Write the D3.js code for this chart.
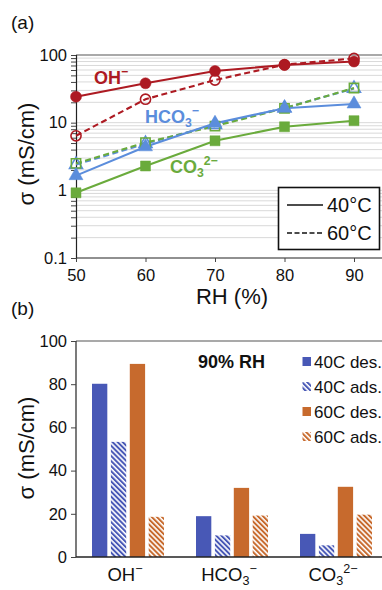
<!DOCTYPE html>
<html><head><meta charset="utf-8">
<script src="https://cdn.jsdelivr.net/npm/d3@7"></script>
<style>
html,body{margin:0;padding:0;background:#fff;overflow:hidden}
text{font-family:"Liberation Sans",Arial,Helvetica,sans-serif}
</style></head>
<body>
<svg id="c" width="382" height="590"></svg>
<script>
// ---- Panel (a) data ----
const rh = [50, 60, 70, 80, 90];
const oh40 = [24.2, 38.2, 58, 71, 80];
const oh60 = [6.4, 22.2, 42.7, 72, 89];
const hco40 = [1.65, 4.4, 9.8, 16.3, 18.9];
const hco60 = [2.4, 4.9, 9.3, 16.5, 32];
const co40 = [0.92, 2.29, 5.4, 8.7, 10.7];
const co60 = [2.5, 5.07, 8.9, 16.3, 32.5];
const yTicksA = [0.1, 1, 10, 100];
const yTickLabelsA = ["0.1", "1", "10", "100"];

// ---- Panel (b) data ----
const anions = ["OH", "HCO3", "CO3"];
const barSeries = ["40C des.", "40C ads.", "60C des.", "60C ads."];
const des40 = [80.2, 18.9, 10.7];
const ads40 = [53.3, 10.0, 5.4];
const des60 = [89.4, 32.0, 32.5];
const ads60 = [18.6, 19.2, 19.6];
const yTicksB = [0, 20, 40, 60, 80, 100];

const RED = "#ad1a22", BLUE = "#5b8ddc", GREEN = "#6aab3c";
const BBLUE = "#4858b6", BORANGE = "#c76a2d";

const svg = d3.select("#c");
const defs = svg.append("defs");
function hatch(id, color) {
  const p = defs.append("pattern").attr("id", id).attr("patternUnits", "userSpaceOnUse")
    .attr("width", 3.6).attr("height", 3.6).attr("patternTransform", "rotate(-45)");
  p.append("rect").attr("width", 3.6).attr("height", 3.6).attr("fill", "#fff");
  p.append("rect").attr("x", 0).attr("width", 2).attr("height", 3.6).attr("fill", color);
}
hatch("hb", BBLUE); hatch("ho", BORANGE);

// ================= Panel (a) =================
const xA = d3.scaleLinear().domain([50, 90]).range([76, 354]);
const yA = d3.scaleLog().domain([0.1, 100]).range([258, 55]);
const gA = svg.append("g");

const gridVals = [];
for (let e = -1; e < 2; e++) for (let m = 1; m < 10; m++) gridVals.push(m * Math.pow(10, e));
gridVals.push(100);
gA.append("g").selectAll("line").data(gridVals.filter(v => v > 0.1 && v < 100)).join("line")
  .attr("x1", 76).attr("x2", 382).attr("y1", d => yA(d)).attr("y2", d => yA(d))
  .attr("stroke", "#d9d9d9").attr("stroke-width", 1);
gA.append("line").attr("x1", 76).attr("x2", 382).attr("y1", yA(100)).attr("y2", yA(100))
  .attr("stroke", "#555").attr("stroke-width", 1.2);

const axA = d3.axisLeft(yA).tickValues(gridVals).tickSize(5)
  .tickFormat(d => { const i = yTicksA.indexOf(d); return i >= 0 ? yTickLabelsA[i] : ""; });
const gya = gA.append("g").attr("transform", "translate(76,0)").call(axA);
gya.select(".domain").attr("stroke", "#222").attr("stroke-width", 1.2);
gya.selectAll(".tick line").attr("stroke", "#444");
gya.selectAll("text").attr("font-size", 16.5).attr("fill", "#111").attr("x", -9)
  .attr("font-family", '"Liberation Sans",Arial,sans-serif');

const axX = d3.axisBottom(xA).tickValues(rh).tickSize(4).tickFormat(d3.format("d"));
const gxa = gA.append("g").attr("transform", "translate(0,258)").call(axX);
gxa.select(".domain").attr("stroke", "#222").attr("stroke-width", 1.2).attr("d", "M76,0H382");
gxa.selectAll(".tick line").attr("stroke", "#444");
gxa.selectAll("text").attr("font-size", 16.5).attr("fill", "#111").attr("dy", "0.95em")
  .attr("font-family", '"Liberation Sans",Arial,sans-serif');

svg.append("text").attr("x", 232).attr("y", 304).attr("text-anchor", "middle")
  .attr("font-size", 22).attr("fill", "#111").text("RH (%)");
svg.append("text").attr("transform", "translate(34,154) rotate(-90)").attr("text-anchor", "middle")
  .attr("font-size", 22).attr("fill", "#111").text("σ (mS/cm)");
svg.append("text").attr("x", 11).attr("y", 29).attr("font-size", 19).attr("fill", "#111").text("(a)");

const seriesA = [
  {v: oh60, c: RED, dash: true, m: "circle"},
  {v: hco60, c: BLUE, dash: true, m: "triangle"},
  {v: co60, c: GREEN, dash: true, m: "square"},
  {v: oh40, c: RED, dash: false, m: "circle"},
  {v: hco40, c: BLUE, dash: false, m: "triangle"},
  {v: co40, c: GREEN, dash: false, m: "square"}
];
const line = d3.line().x((d, i) => xA(rh[i])).y(d => yA(d));
const sym = {circle: d3.symbolCircle, triangle: d3.symbolTriangle, square: d3.symbolSquare};
const symSize = {circle: 95, triangle: 85, square: 100};
seriesA.forEach(s => {
  gA.append("path").datum(s.v).attr("d", line).attr("fill", "none").attr("stroke", s.c)
    .attr("stroke-width", 2.1).attr("stroke-dasharray", s.dash ? "6,3.5" : null);
});
seriesA.forEach(s => {
  gA.append("g").selectAll("path").data(s.v).join("path")
    .attr("transform", (d, i) => `translate(${xA(rh[i])},${yA(d)})`)
    .attr("d", d3.symbol(sym[s.m], s.dash ? symSize[s.m] * 0.85 : symSize[s.m]))
    .attr("fill", s.dash ? "none" : s.c).attr("stroke", s.c).attr("stroke-width", s.dash ? 1.6 : 0.5);
});

function ionLabel(g, x, y, base, sub, sup, color, size, weight) {
  const t = g.append("text").attr("x", x).attr("y", y).attr("font-size", size)
    .attr("font-weight", weight).attr("fill", color);
  t.append("tspan").text(base);
  let dyBack = 0;
  if (sub) { t.append("tspan").attr("font-size", size * 0.68).attr("dy", size * 0.24).text(sub); dyBack = size * 0.24; }
  if (sup) t.append("tspan").attr("font-size", size * 0.68).attr("dy", -(dyBack + size * 0.42)).text(sup);
  return t;
}
ionLabel(gA, 94, 84, "OH", null, "−", RED, 18, "bold");
ionLabel(gA, 145, 123, "HCO", "3", "−", BLUE, 18, "bold");
ionLabel(gA, 170, 173, "CO", "3", "2−", GREEN, 18, "bold");

const lg = svg.append("g");
lg.append("rect").attr("x", 278.5).attr("y", 187.5).attr("width", 101).attr("height", 62)
  .attr("fill", "#fff").attr("stroke", "#111").attr("stroke-width", 1.6);
lg.append("line").attr("x1", 287).attr("x2", 323).attr("y1", 205).attr("y2", 205)
  .attr("stroke", "#111").attr("stroke-width", 1.6);
lg.append("line").attr("x1", 287).attr("x2", 323).attr("y1", 233).attr("y2", 233)
  .attr("stroke", "#111").attr("stroke-width", 1.6).attr("stroke-dasharray", "5,2.5");
lg.append("text").attr("x", 327).attr("y", 212).attr("font-size", 20).attr("fill", "#111").text("40°C");
lg.append("text").attr("x", 327).attr("y", 240).attr("font-size", 20).attr("fill", "#111").text("60°C");

// ================= Panel (b) =================
const yB = d3.scaleLinear().domain([0, 100]).range([557, 341]);
const x0 = d3.scaleBand().domain(anions).range([76, 388]);
const x1 = d3.scaleBand().domain(barSeries).range([16, 88]).paddingInner(0.19);
const gB = svg.append("g");
const barVals = {"40C des.": des40, "40C ads.": ads40, "60C des.": des60, "60C ads.": ads60};
const barFill = {"40C des.": BBLUE, "40C ads.": "url(#hb)", "60C des.": BORANGE, "60C ads.": "url(#ho)"};

anions.forEach((a, ai) => {
  barSeries.forEach(s => {
    const v = barVals[s][ai];
    gB.append("rect").attr("x", x0(a) + x1(s)).attr("width", x1.bandwidth())
      .attr("y", yB(v)).attr("height", yB(0) - yB(v)).attr("fill", barFill[s]);
  });
});

gB.append("line").attr("x1", 76).attr("x2", 382).attr("y1", yB(100)).attr("y2", yB(100))
  .attr("stroke", "#555").attr("stroke-width", 1.2);
const ayB = d3.axisLeft(yB).tickValues(yTicksB).tickSize(5).tickFormat(d3.format("d"));
const gyb = gB.append("g").attr("transform", "translate(76,0)").call(ayB);
gyb.select(".domain").attr("stroke", "#222").attr("stroke-width", 1.2).attr("d", "M0,341V557");
gyb.selectAll(".tick line").attr("stroke", "#444");
gyb.selectAll("text").attr("font-size", 16.5).attr("fill", "#111").attr("x", -9)
  .attr("font-family", '"Liberation Sans",Arial,sans-serif');
gB.append("line").attr("x1", 76).attr("x2", 382).attr("y1", yB(0)).attr("y2", yB(0))
  .attr("stroke", "#222").attr("stroke-width", 1.4);

const catParts = {OH: ["OH", null, "−"], HCO3: ["HCO", "3", "−"], CO3: ["CO", "3", "2−"]};
anions.forEach(a => {
  const p = catParts[a];
  ionLabel(gB, x0(a) + x0.bandwidth() / 2 - 3, 581, p[0], p[1], p[2], "#111", 18.5, "normal")
    .attr("text-anchor", "middle");
});

svg.append("text").attr("x", 11).attr("y", 315).attr("font-size", 19).attr("fill", "#111").text("(b)");
svg.append("text").attr("transform", "translate(34,448) rotate(-90)").attr("text-anchor", "middle")
  .attr("font-size", 22).attr("fill", "#111").text("σ (mS/cm)");
svg.append("text").attr("x", 198).attr("y", 368).attr("font-size", 18).attr("font-weight", "bold")
  .attr("fill", "#111").text("90% RH");

const lgB = svg.append("g");
barSeries.forEach((s, i) => {
  const cy = 361.5 + i * 25;
  lgB.append("rect").attr("x", 302.5).attr("y", cy - 4.5).attr("width", 8.5).attr("height", 9).attr("fill", barFill[s]);
  lgB.append("text").attr("x", 314).attr("y", cy + 6).attr("font-size", 17).attr("fill", "#111").text(s);
});
</script>
</body></html>
